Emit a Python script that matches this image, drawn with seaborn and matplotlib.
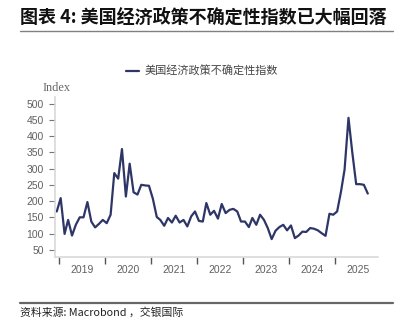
import matplotlib
matplotlib.use("Agg")
import matplotlib.pyplot as plt
import matplotlib.dates as mdates
from matplotlib.lines import Line2D
import seaborn as sns
import pandas as pd
import numpy as np

# ---- data ----
start_month = "2018-12-01"
epu_values = [
    168,
    209, 99, 142, 94, 127, 150, 150, 197, 137, 119, 130, 142,
    132, 158, 286, 269, 360, 214, 315, 227, 220, 250, 248, 247,
    207, 151, 142, 124, 148, 134, 155, 134, 142, 122, 153, 168,
    139, 137, 194, 158, 170, 146, 191, 163, 173, 176, 168, 137,
    137, 120, 148, 127, 158, 142, 117, 83, 109, 120, 127, 110,
    125, 86, 94, 106, 105, 117, 115, 110, 101, 93, 161, 158,
    168, 230, 297, 456, 350, 252, 252, 250, 223,
]
series_name = "美国经济政策不确定性指数"
title_text = "图表 4: 美国经济政策不确定性指数已大幅回落"
source_text = "资料来源: Macrobond ，交银国际"
y_label = "Index"
y_ticks = [50, 100, 150, 200, 250, 300, 350, 400, 450, 500]

dates = pd.date_range(start_month, periods=len(epu_values), freq="MS") + pd.Timedelta(days=14)
df = pd.DataFrame({"date": dates, "value": epu_values})

# ---- style ----
sns.set_theme(style="white")
plt.rcParams["font.family"] = ["Noto Sans CJK SC", "DejaVu Sans"]

W, H = 404, 322
fig = plt.figure(figsize=(W / 100, H / 100), dpi=100)
ax = fig.add_axes([55 / W, 1 - 257 / H, (378 - 55) / W, (257 - 97) / H])

line_color = "#2e3668"
sns.lineplot(data=df, x="date", y="value", ax=ax, color=line_color, linewidth=1.6, legend=False)

ax.set_xlim(pd.Timestamp("2018-12-01"), pd.Timestamp("2025-12-05"))
ax.set_ylim(28, 520)
ax.set_yticks(y_ticks)
ax.set_xlabel("")
ax.set_ylabel("")

tick_color = "#606060"

# x: year boundaries as tick marks, labels centred mid-year
ax.xaxis.set_major_locator(mdates.YearLocator())
ax.xaxis.set_major_formatter(plt.NullFormatter())
ax.xaxis.set_minor_locator(mdates.MonthLocator(bymonth=7, bymonthday=1))
ax.xaxis.set_minor_formatter(mdates.DateFormatter("%Y"))
ax.tick_params(axis="x", which="major", length=5, width=1.0, color="#555555", direction="out", bottom=True)
ax.tick_params(axis="x", which="minor", length=0, pad=6, labelcolor=tick_color, labelsize=7.5)
ax.tick_params(axis="y", which="major", length=4, width=0.8, color="#777777", direction="out", left=True,
               pad=4, labelcolor=tick_color, labelsize=7.5)
for lab in ax.get_yticklabels() + ax.xaxis.get_minorticklabels():
    lab.set_fontfamily(["Liberation Sans", "DejaVu Sans"])

for s in ["top", "right"]:
    ax.spines[s].set_visible(False)
for s in ["left", "bottom"]:
    ax.spines[s].set_color("#d9d9d9")
    ax.spines[s].set_linewidth(1.2)
ax.grid(False)

# Index label
fig.text(43 / W, 1 - 88 / H, y_label, ha="left", va="center",
         family=["Liberation Serif", "DejaVu Serif"], size=8.8, color="#666666")

# legend
handle = Line2D([0], [0], color=line_color, linewidth=1.6)
fig.legend([handle], [series_name], loc="center", bbox_to_anchor=(202 / W, 1 - 71 / H),
           frameon=False, handlelength=1.1, handletextpad=0.5,
           prop=dict(family=["Noto Sans CJK SC", "DejaVu Sans"], size=8.0), labelcolor="#444444")

# title
fig.text(20 / W, 1 - 17 / H, title_text, ha="left", va="center",
         family=["Noto Sans CJK SC", "DejaVu Sans"], weight="bold", size=13, color="#111111")

# separator lines
fig.add_artist(Line2D([20 / W, 393 / W], [1 - 31 / H, 1 - 31 / H], color="#808080", linewidth=1.0))
fig.add_artist(Line2D([20 / W, 393 / W], [1 - 302.5 / H, 1 - 302.5 / H], color="#666666", linewidth=1.6))

# source
fig.text(20 / W, 1 - 313 / H, source_text, ha="left", va="center",
         family=["Noto Sans CJK SC", "DejaVu Sans"], style="italic", size=7.8, color="#222222")

fig.savefig("out.png", dpi=100)
